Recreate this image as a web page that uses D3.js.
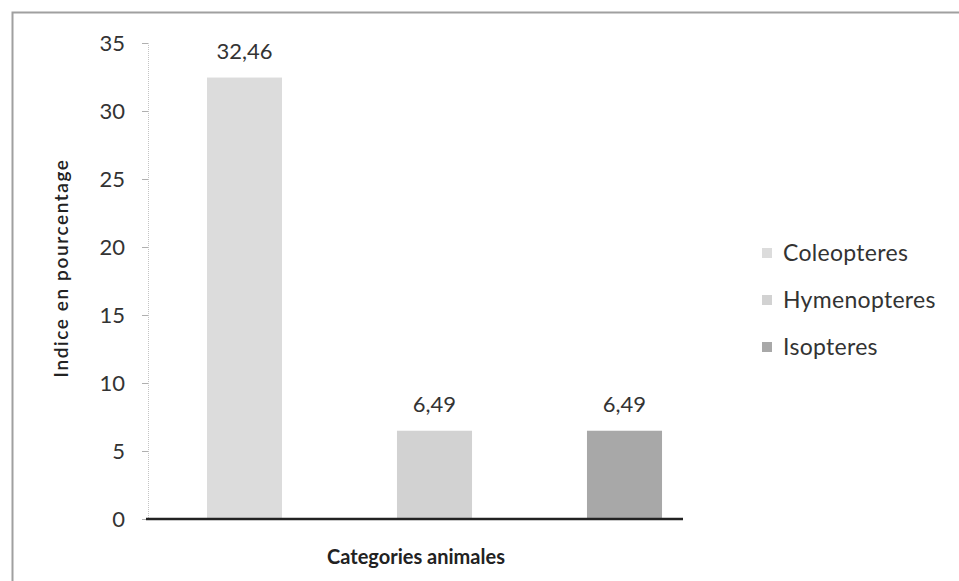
<!DOCTYPE html>
<html>
<head>
<meta charset="utf-8">
<script src="https://cdn.jsdelivr.net/npm/d3@7"></script>
<style>
  html, body { margin: 0; padding: 0; background: #fff; }
  svg { display: block; font-family: Lato, "Open Sans", sans-serif; }
</style>
</head>
<body>
<svg id="chart" width="959" height="581"></svg>
<script>
const categories = ["Coleopteres", "Hymenopteres", "Isopteres"];
const values = [32.46, 6.49, 6.49];
const valueLabels = ["32,46", "6,49", "6,49"];
const yTicks = [0, 5, 10, 15, 20, 25, 30, 35];
const colors = ["#dcdcdc", "#d2d2d2", "#a8a8a8"];

const svg = d3.select("#chart");
const W = 959, H = 581;

// frame (left and top border)
svg.append("path")
  .attr("d", `M12.5,${H} L12.5,12.5 L${W},12.5`)
  .attr("fill", "none").attr("stroke", "#a0a0a0").attr("stroke-width", 2);

const x0 = 148, xEnd = 683, yTop = 43, yBot = 519;
const step = 190;
const x = d3.scaleBand().domain(categories).range([x0 + 1.5, x0 + 1.5 + step * 3])
  .paddingInner(0.605).paddingOuter(0.3025);
const y = d3.scaleLinear().domain([0, 35]).range([yBot, yTop]);

// y axis
const yAxis = d3.axisLeft(y).tickValues(yTicks).tickSize(6).tickPadding(17).tickFormat(d3.format("d"));
const gy = svg.append("g").attr("transform", `translate(${x0},0)`).call(yAxis);
gy.select(".domain").attr("stroke", "#c4c4c4").attr("stroke-width", 1).attr("stroke-dasharray", "1,1");
gy.selectAll(".tick line").attr("stroke", "#b0b0b0");
gy.selectAll(".tick text").attr("font-size", 22).attr("fill", "#333").attr("font-family", "Lato, 'Open Sans', sans-serif");

// bars
svg.append("g").selectAll("rect").data(categories).join("rect")
  .attr("x", d => x(d))
  .attr("y", (d, i) => y(values[i]))
  .attr("width", x.bandwidth())
  .attr("height", (d, i) => yBot - y(values[i]))
  .attr("fill", (d, i) => colors[i]);

// value labels
svg.append("g").selectAll("text").data(categories).join("text")
  .attr("x", d => x(d) + x.bandwidth() / 2)
  .attr("y", (d, i) => y(values[i]) - 19)
  .attr("text-anchor", "middle")
  .attr("font-size", 22).attr("fill", "#333")
  .text((d, i) => valueLabels[i]);

// x axis line
const xAxis = d3.axisBottom(x).tickSize(0).tickFormat("");
const gx = svg.append("g").attr("transform", `translate(0,${yBot})`).call(xAxis);
gx.select(".domain").attr("stroke", "#222").attr("stroke-width", 2.5)
  .attr("d", `M${x0 - 2},0H${xEnd}`);

// axis titles
svg.append("text")
  .attr("transform", `translate(68,268) rotate(-90)`)
  .attr("text-anchor", "middle").attr("font-size", 19).attr("font-weight", "600")
  .attr("letter-spacing", 1.6).attr("fill", "#222")
  .text("Indice en pourcentage");
svg.append("text")
  .attr("x", 416).attr("y", 564)
  .attr("text-anchor", "middle").attr("font-size", 20).attr("font-weight", "bold").attr("fill", "#222")
  .text("Categories animales");

// legend
const legY = d3.scalePoint().domain(categories).range([253, 347]);
const leg = svg.append("g").selectAll("g").data(categories).join("g")
  .attr("transform", d => `translate(762,${legY(d)})`);
leg.append("rect").attr("x", 0).attr("y", -5).attr("width", 10).attr("height", 10)
  .attr("fill", (d, i) => colors[i]);
leg.append("text").attr("x", 21).attr("y", 0).attr("dy", "0.35em")
  .attr("font-size", 23).attr("letter-spacing", 0.3).attr("fill", "#333").text(d => d);
</script>
</body>
</html>
